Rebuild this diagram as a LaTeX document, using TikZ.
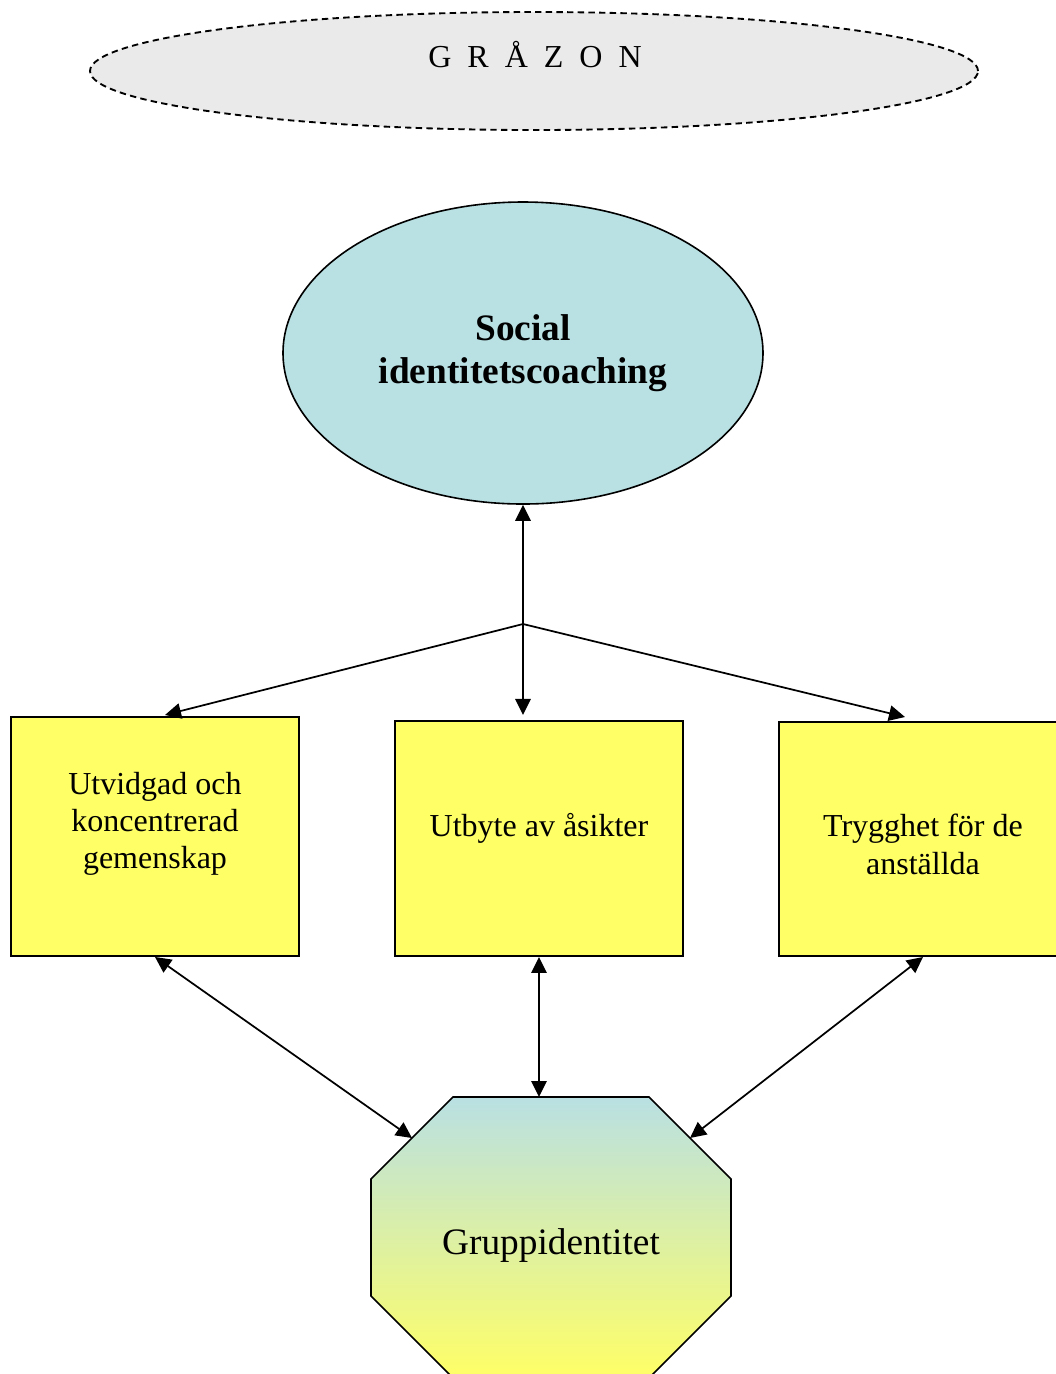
\documentclass[tikz,border=0pt]{standalone}
\usepackage{fontspec}
\setmainfont{Liberation Serif}
\usepackage{xcolor}
\usetikzlibrary{shapes.geometric,arrows.meta,calc}

\definecolor{grayzone}{HTML}{EAEAEA}
\definecolor{coachblue}{HTML}{B9E0E3}
\definecolor{boxyellow}{HTML}{FFFF66}

\begin{document}
\begin{tikzpicture}[x=0.375pt,y=-0.375pt,line width=0.65pt,
    >={Triangle[length=6pt,width=5.8pt]},
    box/.style={draw, rectangle, fill=boxyellow, line width=0.75pt, minimum width=108pt},
    boxtext/.style={draw=none, align=center, font=\fontsize{12}{14}\selectfont}]
            \useasboundingbox (0,0) rectangle (1056,1374);

            %grey zone on top
            \node[draw, dashed, dash pattern=on 2.4pt off 1.6pt, line width=0.7pt, ellipse, fill=grayzone,
                minimum width=333pt, minimum height=44.25pt] (zone) at (534,71) {};
            \node[draw=none, font=\fontsize{12}{14}\selectfont] (zonetext) at (535,55) {{\spaceskip=6pt G R Å Z O N}};

            \node[draw, ellipse, fill=coachblue, line width=0.6pt, minimum width=180pt, minimum height=113.25pt,
                align=center, font=\fontsize{14}{16}\selectfont\bfseries] (soc) at (523,353) {Social\\identitetscoaching};

            %the three boxes
            \node[box, minimum height=89.6pt] (b1) at (155,836.5) {};
            \node[box, minimum height=88.1pt] (b2) at (539,838.5) {};
            \node[box, minimum height=87.75pt] (b3) at (923,839) {};

            \node[boxtext] (t1) at (155,824) {Utvidgad och\\koncentrerad\\gemenskap};
            \node[boxtext] (t2) at (539,828) {Utbyte av åsikter};
            \node[boxtext] (t3) at (923,844.5) {Trygghet för de\\anställda};

            %octagon at the bottom
            \coordinate (o1) at (453,1097);
            \coordinate (o2) at (649,1097);
            \coordinate (o3) at (731,1179);
            \coordinate (o4) at (731,1296);
            \coordinate (o5) at (649,1378);
            \coordinate (o6) at (453,1378);
            \coordinate (o7) at (371,1296);
            \coordinate (o8) at (371,1179);
            \shade[draw, top color=coachblue, bottom color=boxyellow]
                (o1) -- (o2) -- (o3) -- (o4) -- (o5) -- (o6) -- (o7) -- (o8) -- cycle;
            \node[draw=none, font=\fontsize{14}{16}\selectfont] (grp) at (551,1246) {Gruppidentitet};

            \coordinate (j) at (523,624);

            \draw[->] (j) -- (soc.south);
            \draw[->] (j) -- ([yshift=1.9pt]j |- b2.north);
            \draw[->] (j) -- ([xshift=3.75pt,yshift=0.4pt]b1.north);
            \draw[->] (j) -- ([xshift=-6.75pt,yshift=1.5pt]b3.north);

            \draw[<->] (b1.south) -- ($(o8)!0.5!(o1)$);
            \draw[<->] (b2.south) -- (b2.south |- o1);
            \draw[<->] (b3.south) -- ($(o2)!0.5!(o3)$);

        \end{tikzpicture}
\end{document}
